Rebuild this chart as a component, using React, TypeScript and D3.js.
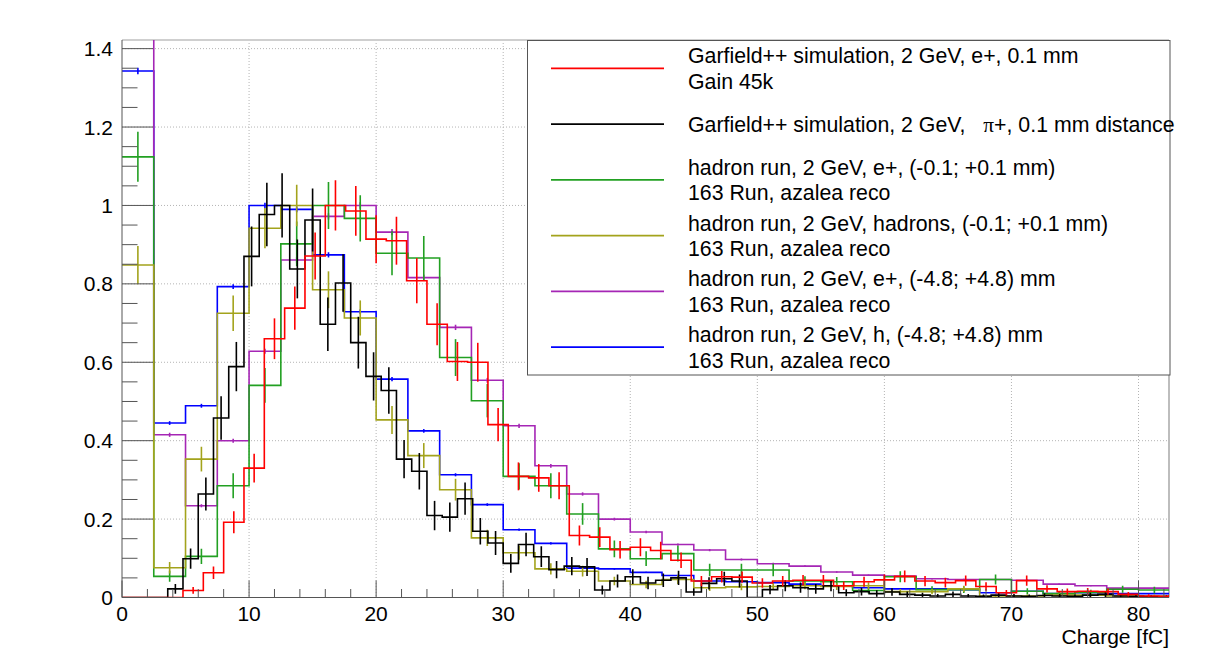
import React from "react";
import * as d3 from "d3";

const W = 1225;
const H = 649;
const FRAME = { left: 122, right: 1169, top: 40, bottom: 597.5 };
const X_DOMAIN: [number, number] = [0, 82.4];
const Y_DOMAIN: [number, number] = [0, 1.422];

const xMajorTicks = [0, 10, 20, 30, 40, 50, 60, 70, 80];
const xTickLabels = ["0", "10", "20", "30", "40", "50", "60", "70", "80"];
const yMajorTicks = [0, 0.2, 0.4, 0.6, 0.8, 1, 1.2, 1.4];
const yTickLabels = ["0", "0.2", "0.4", "0.6", "0.8", "1", "1.2", "1.4"];
const xAxisTitle = "Charge [fC]";

// Garfield++ e+ (red), bin width 1.6 fC
const redBinWidth = 1.6;
const redEntries = 244;
const redValues = [
  0, 0, 0, 0.018, 0.063, 0.192, 0.33, 0.66, 0.738, 0.871, 1.0, 0.986, 0.914,
  0.91, 0.808, 0.697, 0.602, 0.6, 0.441, 0.309, 0.305, 0.285, 0.158, 0.154,
  0.122, 0.128, 0.12, 0.095, 0.042, 0.053, 0.052, 0.037, 0.042, 0.044, 0.044,
  0.03, 0.04, 0.045, 0.054, 0.042, 0.038, 0.043, 0.028, 0.012, 0.043, 0.022,
  0.015, 0.016, 0.015, 0.008, 0.004, 0.003,
];

// Garfield++ pi+ (black), bin width 1.2 fC
const blackBinWidth = 1.2;
const blackEntries = 149;
const blackValues = [
  0, 0, 0, 0.022, 0.099, 0.264, 0.458, 0.589, 0.87, 0.977, 1.0, 0.838, 0.963,
  0.697, 0.802, 0.65, 0.564, 0.528, 0.353, 0.322, 0.209, 0.205, 0.252, 0.169,
  0.139, 0.087, 0.135, 0.104, 0.071, 0.08, 0.078, 0.019, 0.042, 0.053, 0.037,
  0.044, 0.05, 0.014, 0.036, 0.048, 0.042, 0, 0.02, 0.03, 0.025, 0.022, 0.03,
  0.012, 0.015, 0.01, 0.014, 0.008, 0.006, 0.004, 0.008, 0.004, 0.003, 0.006,
  0.004, 0.003, 0.005, 0.004, 0.003, 0.006, 0.008, 0.004, 0.003, 0.002, 0.002,
];

// data runs, bin width 2.5 fC
const dataBinWidth = 2.5;
const greenEntries = 277;
const greenValues = [
  1.124, 0.054, 0.105, 0.285, 0.541, 0.902, 1.0, 0.967, 0.878, 0.866, 0.612,
  0.502, 0.309, 0.285, 0.213, 0.124, 0.099, 0.112, 0.07, 0.07, 0.07, 0.042,
  0.04, 0.018, 0.053, 0.02, 0.02, 0.046, 0.016, 0.01, 0.013, 0.021, 0.019,
];
const oliveEntries = 356;
const oliveValues = [
  0.848, 0.076, 0.353, 0.725, 0.942, 1.0, 0.785, 0.713, 0.453, 0.362, 0.275,
  0.152, 0.114, 0.073, 0.067, 0.042, 0.033, 0.046, 0.025, 0.027, 0.028, 0.03,
  0.028, 0.03, 0.015, 0.015, 0.022, 0.004, 0.004, 0.006, 0.006, 0.004, 0.004,
];
const magentaEntries = 15000;
const magentaValues = [
  1.6, 0.415, 0.234, 0.4, 0.628, 0.861, 0.972, 1.0, 0.932, 0.816, 0.689,
  0.554, 0.438, 0.336, 0.264, 0.2, 0.167, 0.135, 0.121, 0.097, 0.086, 0.08,
  0.065, 0.057, 0.055, 0.048, 0.046, 0.046, 0.044, 0.034, 0.03, 0.024, 0.024,
];
const blueEntries = 20000;
const blueValues = [
  1.343, 0.445, 0.489, 0.793, 1.0, 0.99, 0.874, 0.729, 0.557, 0.425, 0.313,
  0.237, 0.173, 0.138, 0.075, 0.073, 0.064, 0.056, 0.042, 0.04, 0.038, 0.034,
  0.03, 0.025, 0.022, 0.022, 0.02, 0.012, 0.016, 0.01, 0.012, 0.01, 0.01,
];

const seriesColors = {
  red: "#ff0000",
  black: "#000000",
  green: "#22a022",
  olive: "#a3a31c",
  magenta: "#a526b5",
  blue: "#0000ff",
};

// drawing order bottom -> top
const drawOrder = [
  { key: "blue", values: blueValues, bw: dataBinWidth, n: blueEntries },
  { key: "magenta", values: magentaValues, bw: dataBinWidth, n: magentaEntries },
  { key: "green", values: greenValues, bw: dataBinWidth, n: greenEntries },
  { key: "olive", values: oliveValues, bw: dataBinWidth, n: oliveEntries },
  { key: "black", values: blackValues, bw: blackBinWidth, n: blackEntries },
  { key: "red", values: redValues, bw: redBinWidth, n: redEntries },
];

const legendKeys = ["red", "black", "green", "olive", "magenta", "blue"];
const legendLines: string[][] = [
  ["Garfield++ simulation, 2 GeV, e+, 0.1 mm", "Gain 45k"],
  ["PI"],
  ["hadron run, 2 GeV, e+, (-0.1; +0.1 mm)", "163 Run, azalea reco"],
  ["hadron run, 2 GeV, hadrons, (-0.1; +0.1 mm)", "163 Run, azalea reco"],
  ["hadron run, 2 GeV, e+, (-4.8; +4.8) mm", "163 Run, azalea reco"],
  ["hadron run, 2 GeV, h, (-4.8; +4.8) mm", "163 Run, azalea reco"],
];

const FONT = "'Liberation Sans', Arial, Helvetica, sans-serif";

export default function App() {
  const x = d3.scaleLinear().domain(X_DOMAIN).range([FRAME.left, FRAME.right]);
  const y = d3.scaleLinear().domain(Y_DOMAIN).range([FRAME.bottom, FRAME.top]);

  const stepPath = (values: number[], bw: number) => {
    const pts: [number, number][] = values.map((v, i) => [i * bw, v]);
    pts.push([values.length * bw, values[values.length - 1]]);
    return (
      d3
        .line<[number, number]>()
        .x((d) => x(d[0]))
        .y((d) => y(d[1]))
        .curve(d3.curveStepAfter)(pts) || ""
    );
  };

  const xMinor = d3.range(0, X_DOMAIN[1], 2).filter((v) => v % 10 !== 0);
  const yMinor = d3
    .range(0, Y_DOMAIN[1], 0.05)
    .filter((v) => Math.abs(v / 0.2 - Math.round(v / 0.2)) > 0.01);

  const legend = { left: 527.5, top: 40.5, right: 1170, bottom: 375 };
  const entryH = (legend.bottom - legend.top) / legendLines.length;
  const fs = 21.3;
  const afs = 21;

  return (
    <svg
      width={W}
      height={H}
      style={{ position: "absolute", left: 0, top: 0, background: "#fff" }}
      fontFamily={FONT}
    >
      <defs>
        <clipPath id="frameClip">
          <rect
            x={FRAME.left}
            y={FRAME.top}
            width={FRAME.right - FRAME.left}
            height={FRAME.bottom - FRAME.top}
          />
        </clipPath>
      </defs>
      <rect x={0} y={0} width={W} height={H} fill="#fff" />

      {/* grid */}
      <g stroke="#b4b4b4" strokeWidth={1} strokeDasharray="1,2">
        {xMajorTicks
          .filter((t) => t > 0)
          .map((t) => (
            <line key={"gx" + t} x1={x(t)} x2={x(t)} y1={FRAME.top} y2={FRAME.bottom} />
          ))}
        {yMajorTicks
          .filter((t) => t > 0)
          .map((t) => (
            <line key={"gy" + t} x1={FRAME.left} x2={FRAME.right} y1={y(t)} y2={y(t)} />
          ))}
      </g>

      {/* frame top/right */}
      <line x1={FRAME.left} x2={FRAME.right} y1={FRAME.top} y2={FRAME.top} stroke="#cfcfcf" strokeWidth={2} />
      <line x1={FRAME.right} x2={FRAME.right} y1={FRAME.top} y2={FRAME.bottom} stroke="#bdbdbd" strokeWidth={2} />

      {/* histograms */}
      <g clipPath="url(#frameClip)" fill="none" strokeWidth={1.6}>
        {drawOrder.map((s) => {
          const color = (seriesColors as any)[s.key];
          return (
            <g key={s.key} stroke={color}>
              <path d={stepPath(s.values, s.bw)} />
              {s.values.map((v, i) => {
                if (v <= 0) return null;
                const e = Math.sqrt(v / s.n);
                const cx = x((i + 0.5) * s.bw);
                return (
                  <line key={i} x1={cx} x2={cx} y1={y(v - e)} y2={y(v + e)} />
                );
              })}
            </g>
          );
        })}
      </g>

      {/* axes */}
      <g stroke="#555" strokeWidth={1}>
        <line x1={FRAME.left} x2={FRAME.left} y1={FRAME.top} y2={FRAME.bottom} />
        <line x1={FRAME.left} x2={FRAME.right} y1={FRAME.bottom} y2={FRAME.bottom} />
        {xMajorTicks.map((t) => (
          <line key={"xt" + t} x1={x(t)} x2={x(t)} y1={FRAME.bottom} y2={FRAME.bottom - 17} />
        ))}
        {xMinor.map((t) => (
          <line key={"xm" + t} x1={x(t)} x2={x(t)} y1={FRAME.bottom} y2={FRAME.bottom - 8.5} />
        ))}
        {yMajorTicks.map((t) => (
          <line key={"yt" + t} x1={FRAME.left} x2={FRAME.left + 31} y1={y(t)} y2={y(t)} />
        ))}
        {yMinor.map((t) => (
          <line key={"ym" + t} x1={FRAME.left} x2={FRAME.left + 15.5} y1={y(t)} y2={y(t)} />
        ))}
      </g>

      {/* tick labels */}
      <g fontSize={afs} fill="#000">
        {xMajorTicks.map((t, i) => (
          <text key={"xl" + t} x={x(t)} y={620.5} textAnchor="middle">
            {xTickLabels[i]}
          </text>
        ))}
        {yMajorTicks.map((t, i) => (
          <text key={"yl" + t} x={113} y={y(t) + 7.5} textAnchor="end">
            {yTickLabels[i]}
          </text>
        ))}
        <text x={FRAME.right} y={644.3} textAnchor="end" fontSize={21}>
          {xAxisTitle}
        </text>
      </g>

      {/* legend */}
      <rect
        x={legend.left}
        y={legend.top}
        width={legend.right - legend.left}
        height={legend.bottom - legend.top}
        fill="#fff"
        stroke="#555"
        strokeWidth={1}
      />
      {legendKeys.map((k, i) => {
        const cy = legend.top + entryH * (i + 0.5);
        const lines = legendLines[i];
        return (
          <g key={"lg" + k}>
            <line
              x1={551}
              x2={664}
              y1={cy}
              y2={cy}
              stroke={(seriesColors as any)[k]}
              strokeWidth={1.6}
            />
            {lines[0] === "PI" ? (
              <text x={688} y={cy + 0.36 * fs} fontSize={fs} style={{ whiteSpace: "pre" }}>
                {"Garfield++ simulation, 2 GeV, "}
                <tspan dx={12} fontFamily="'Liberation Serif', 'DejaVu Serif', serif">
                  π
                </tspan>
                <tspan>{"+, 0.1 mm distance"}</tspan>
              </text>
            ) : (
              lines.map((t, j) => (
                <text
                  key={j}
                  x={688}
                  y={cy + (j - (lines.length - 1) / 2) * 25.5 + 0.36 * fs}
                  fontSize={fs}
                >
                  {t}
                </text>
              ))
            )}
          </g>
        );
      })}
    </svg>
  );
}
